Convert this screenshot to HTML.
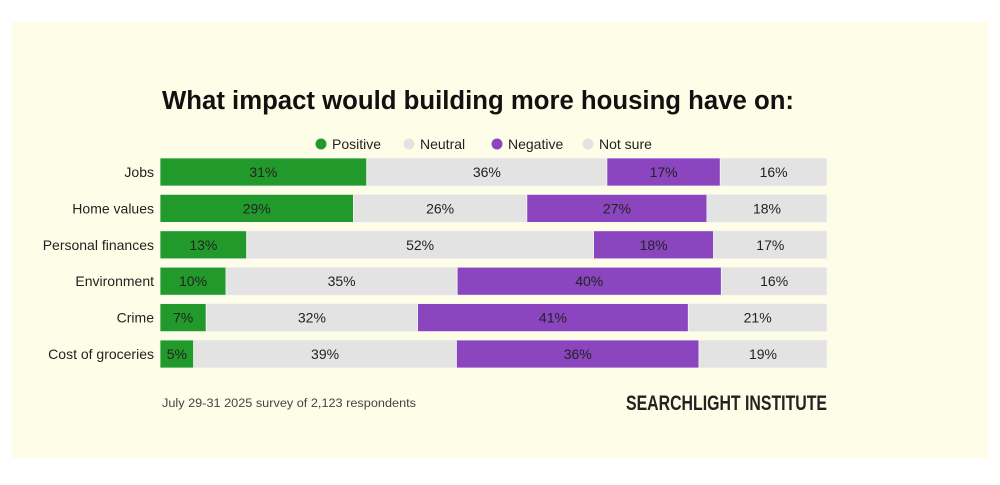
<!DOCTYPE html>
<html><head><meta charset="utf-8"><style>
body{margin:0;background:#fff;width:1000px;height:480px;overflow:hidden;font-family:"Liberation Sans",sans-serif}
</style></head><body>
<svg id="chart" width="1000" height="480">
<rect x="12" y="22" width="976" height="436" fill="#fefee8"/>
<text x="162" y="109" font-size="25.5" font-weight="bold" fill="#111" textLength="632" lengthAdjust="spacingAndGlyphs">What impact would building more housing have on:</text>
<g id="legend"></g>
<g id="bars"></g>
<text x="162" y="407" font-size="11.5" fill="#444" textLength="254" lengthAdjust="spacingAndGlyphs">July 29-31 2025 survey of 2,123 respondents</text>
<text x="626" y="410" font-size="21" font-weight="bold" fill="#222" textLength="201" lengthAdjust="spacingAndGlyphs" font-family="Liberation Sans Narrow, Liberation Sans, sans-serif">SEARCHLIGHT INSTITUTE</text>
</svg>
<script>
const categories=["Jobs","Home values","Personal finances","Environment","Crime","Cost of groceries"];
const positive=[31,29,13,10,7,5];
const neutral=[36,26,52,35,32,39];
const negative=[17,27,18,40,41,36];
const notSure=[16,18,17,16,21,19];
const seriesNames=["Positive","Neutral","Negative","Not sure"];
const colors=["#229a2b","#e3e3e3","#8a45bf","#e3e3e3"];
const NS="http://www.w3.org/2000/svg";
const x0=160,x1=827,rowTop=158,rowStep=36.4,barH=28;
function mk(t,a,p){const e=document.createElementNS(NS,t);for(const k in a)e.setAttribute(k,a[k]);p.appendChild(e);return e;}
const bars=document.getElementById('bars');
const series=[positive,neutral,negative,notSure];
categories.forEach((c,i)=>{
  const tot=series.reduce((s,a)=>s+a[i],0);
  const xs=v=>x0+(x1-x0)*v/tot;
  const y=rowTop+i*rowStep;
  const lab=mk('text',{x:154,y:y+barH/2+5,'text-anchor':'end','font-size':14,fill:'#222'},bars);
  lab.textContent=c;
  
  
  let acc=0;
  series.forEach((s,j)=>{
    const xa=xs(acc),xb=xs(acc+s[i]);acc+=s[i];
    const r=mk('rect',{x:xa,y:y,width:xb-xa,height:barH,fill:colors[j],stroke:'#f4f4f4','stroke-width':0.8},bars);
    
    
    const t=mk('text',{x:(xa+xb)/2,y:y+barH/2+5,'text-anchor':'middle','font-size':14,fill:'#222'},bars);
    t.textContent=s[i]+'%';
    
    
  });
});
const lg=document.getElementById('legend');
const lx=[321,409,497,588];
seriesNames.forEach((n,j)=>{
  const c=mk('circle',{cx:lx[j],cy:144,r:5.5,fill:j==3?'#e3e3e3':colors[j]},lg);
  
  
  const t=mk('text',{x:lx[j]+11,y:149,'font-size':14,fill:'#222'},lg);
  t.textContent=n;
  
  
});
</script>
</body></html>
